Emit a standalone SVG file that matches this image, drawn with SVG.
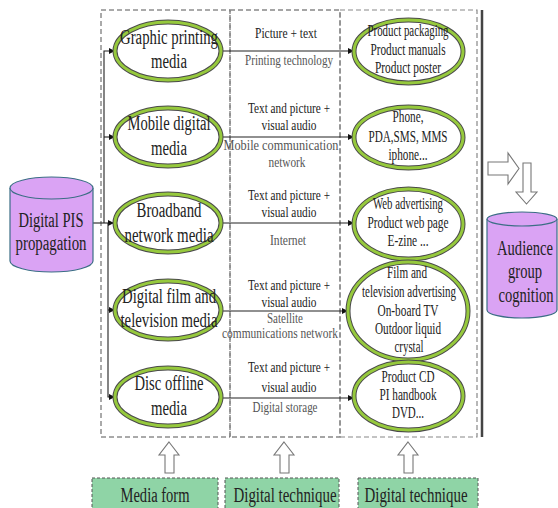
<svg xmlns="http://www.w3.org/2000/svg" width="558" height="508" viewBox="0 0 558 508" font-family="'Liberation Serif', 'Times New Roman', serif">
  <defs>
    <style>
      .t { font-family: "Liberation Serif", "Times New Roman", serif; fill: #222; text-anchor: middle; }
      .f20 { font-size: 20px; }
      .f16 { font-size: 16px; }
      .f14 { font-size: 14px; }
      .tech { fill: #555; }
      .col { fill: none; stroke-dasharray: 5 3; }
      .ring-out { fill: #fff; stroke: #4a4a4a; stroke-width: 5; }
      .ring-in { fill: none; stroke: #96c93d; stroke-width: 3; }
      .cyl { fill: #daa3f4; stroke: #3b6e85; stroke-width: 1.2; }
      .conn { fill: none; stroke: #222; stroke-width: 1.1; }
      .hollow { fill: #fff; stroke: #777; stroke-width: 1.1; }
      .tag { fill: #8fd4a6; stroke: #555; stroke-width: 1; stroke-dasharray: 3 2; }
    </style>
    <marker id="arr" viewBox="0 0 10 10" refX="10" refY="5" markerWidth="7" markerHeight="6" markerUnits="userSpaceOnUse" orient="auto">
      <path d="M0 0 L10 5 L0 10 Z" fill="#111"/>
    </marker>
  </defs>

  <!-- column frames -->
  <g id="frames">
    <rect class="col" x="101" y="10" width="129" height="427" stroke="#555" stroke-width="1"/>
    <rect class="col" x="230" y="10" width="110" height="427" stroke="#888" stroke-width="1.4" stroke-dasharray="6 3"/>
    <rect class="col" x="340" y="10" width="137" height="427" stroke="#888" stroke-width="1.2"/>
    <line x1="482" y1="10" x2="482" y2="437" stroke="#444" stroke-width="2.5"/>
  </g>

  <!-- connectors -->
  <g id="connectors">
    <path class="conn" d="M93 223 H114" marker-end="url(#arr)"/>
    <path class="conn" d="M104 223 V51 H115" marker-end="url(#arr)"/>
    <path class="conn" d="M104 137 H115" marker-end="url(#arr)"/>
    <path class="conn" d="M108 223 V397 H115" marker-end="url(#arr)"/>
    <path class="conn" d="M108 310 H115" marker-end="url(#arr)"/>
    <path class="conn" d="M221 51 H354" marker-end="url(#arr)"/>
    <path class="conn" d="M221 137 H354" marker-end="url(#arr)"/>
    <path class="conn" d="M221 223 H354" marker-end="url(#arr)"/>
    <path class="conn" d="M221 311 H348" marker-end="url(#arr)"/>
    <path class="conn" d="M221 398 H354" marker-end="url(#arr)"/>
  </g>

  <!-- source cylinder -->
  <g id="source">
    <path class="cyl" d="M10 188 V261 A41.5 11 0 0 0 93 261 V188"/>
    <ellipse class="cyl" cx="51.5" cy="188" rx="41.5" ry="11"/>
    <text class="t f20" x="51" y="227" textLength="65" lengthAdjust="spacingAndGlyphs">Digital PIS</text>
    <text class="t f20" x="51" y="250" textLength="71" lengthAdjust="spacingAndGlyphs">propagation</text>
  </g>

  <!-- media forms -->
  <g id="graphic">
    <ellipse class="ring-out" cx="168" cy="51" rx="53" ry="29"/>
    <ellipse class="ring-in" cx="168" cy="51" rx="53" ry="29"/>
    <text class="t f20" x="169" y="44" textLength="98" lengthAdjust="spacingAndGlyphs">Graphic printing</text>
    <text class="t f20" x="169" y="68" textLength="36" lengthAdjust="spacingAndGlyphs">media</text>
  </g>
  <g id="mobile">
    <ellipse class="ring-out" cx="168" cy="137" rx="53" ry="29"/>
    <ellipse class="ring-in" cx="168" cy="137" rx="53" ry="29"/>
    <text class="t f20" x="169" y="130" textLength="83" lengthAdjust="spacingAndGlyphs">Mobile digital</text>
    <text class="t f20" x="169" y="155" textLength="36" lengthAdjust="spacingAndGlyphs">media</text>
  </g>
  <g id="broadband">
    <ellipse class="ring-out" cx="168" cy="223" rx="53" ry="29"/>
    <ellipse class="ring-in" cx="168" cy="223" rx="53" ry="29"/>
    <text class="t f20" x="169" y="217" textLength="65" lengthAdjust="spacingAndGlyphs">Broadband</text>
    <text class="t f20" x="169" y="242" textLength="89" lengthAdjust="spacingAndGlyphs">network media</text>
  </g>
  <g id="film">
    <ellipse class="ring-out" cx="168" cy="310" rx="53" ry="29"/>
    <ellipse class="ring-in" cx="168" cy="310" rx="53" ry="29"/>
    <text class="t f20" x="169" y="303" textLength="94" lengthAdjust="spacingAndGlyphs">Digital film and</text>
    <text class="t f20" x="169" y="327" textLength="97" lengthAdjust="spacingAndGlyphs">television media</text>
  </g>
  <g id="disc">
    <ellipse class="ring-out" cx="168" cy="397" rx="53" ry="29"/>
    <ellipse class="ring-in" cx="168" cy="397" rx="53" ry="29"/>
    <text class="t f20" x="169" y="390" textLength="69" lengthAdjust="spacingAndGlyphs">Disc offline</text>
    <text class="t f20" x="169" y="415" textLength="36" lengthAdjust="spacingAndGlyphs">media</text>
  </g>

  <!-- techniques (middle column) -->
  <g id="tech-labels">
    <text class="t f14" x="286" y="38" textLength="62" lengthAdjust="spacingAndGlyphs">Picture + text</text>
    <text class="t f14 tech" x="289" y="65" textLength="88" lengthAdjust="spacingAndGlyphs">Printing technology</text>

    <text class="t f14" x="289" y="113" textLength="82" lengthAdjust="spacingAndGlyphs">Text and picture +</text>
    <text class="t f14" x="289" y="130" textLength="55" lengthAdjust="spacingAndGlyphs">visual audio</text>
    <text class="t f14 tech" x="281" y="150" textLength="115" lengthAdjust="spacingAndGlyphs">Mobile communication</text>
    <text class="t f14 tech" x="287" y="167" textLength="37" lengthAdjust="spacingAndGlyphs">network</text>

    <text class="t f14" x="289" y="200" textLength="82" lengthAdjust="spacingAndGlyphs">Text and picture +</text>
    <text class="t f14" x="289" y="217" textLength="55" lengthAdjust="spacingAndGlyphs">visual audio</text>
    <text class="t f14 tech" x="288" y="245" textLength="36" lengthAdjust="spacingAndGlyphs">Internet</text>

    <text class="t f14" x="289" y="290" textLength="82" lengthAdjust="spacingAndGlyphs">Text and picture +</text>
    <text class="t f14" x="289" y="307" textLength="55" lengthAdjust="spacingAndGlyphs">visual audio</text>
    <text class="t f14 tech" x="285" y="323" textLength="36" lengthAdjust="spacingAndGlyphs">Satellite</text>
    <text class="t f14 tech" x="280" y="338" textLength="116" lengthAdjust="spacingAndGlyphs">communications network</text>

    <text class="t f14" x="289" y="372" textLength="82" lengthAdjust="spacingAndGlyphs">Text and picture +</text>
    <text class="t f14" x="289" y="392" textLength="55" lengthAdjust="spacingAndGlyphs">visual audio</text>
    <text class="t f14 tech" x="285" y="412" textLength="65" lengthAdjust="spacingAndGlyphs">Digital storage</text>
  </g>

  <!-- carriers (right column) -->
  <g id="print-items">
    <ellipse class="ring-out" cx="408.5" cy="51.5" rx="54.5" ry="31.5"/>
    <ellipse class="ring-in" cx="408.5" cy="51.5" rx="54.5" ry="31.5"/>
    <text class="t f16" x="408" y="36" textLength="81" lengthAdjust="spacingAndGlyphs">Product packaging</text>
    <text class="t f16" x="408" y="55" textLength="75" lengthAdjust="spacingAndGlyphs">Product manuals</text>
    <text class="t f16" x="408" y="73" textLength="66" lengthAdjust="spacingAndGlyphs">Product poster</text>
  </g>
  <g id="mobile-items">
    <ellipse class="ring-out" cx="408.5" cy="137.5" rx="54.5" ry="30.5"/>
    <ellipse class="ring-in" cx="408.5" cy="137.5" rx="54.5" ry="30.5"/>
    <text class="t f16" x="408" y="122" textLength="31" lengthAdjust="spacingAndGlyphs">Phone,</text>
    <text class="t f16" x="408" y="142" textLength="79" lengthAdjust="spacingAndGlyphs">PDA,SMS, MMS</text>
    <text class="t f16" x="408" y="160" textLength="39" lengthAdjust="spacingAndGlyphs">iphone...</text>
  </g>
  <g id="web-items">
    <ellipse class="ring-out" cx="408.5" cy="224" rx="54.5" ry="35"/>
    <ellipse class="ring-in" cx="408.5" cy="224" rx="54.5" ry="35"/>
    <text class="t f16" x="408" y="209" textLength="70" lengthAdjust="spacingAndGlyphs">Web advertising</text>
    <text class="t f16" x="408" y="228" textLength="81" lengthAdjust="spacingAndGlyphs">Product web page</text>
    <text class="t f16" x="408" y="246" textLength="41" lengthAdjust="spacingAndGlyphs">E-zine ...</text>
  </g>
  <g id="film-items">
    <ellipse class="ring-out" cx="408" cy="311" rx="60" ry="49"/>
    <ellipse class="ring-in" cx="408" cy="311" rx="60" ry="49"/>
    <text class="t f16" x="407" y="278" textLength="40" lengthAdjust="spacingAndGlyphs">Film and</text>
    <text class="t f16" x="409" y="297" textLength="94" lengthAdjust="spacingAndGlyphs">television advertising</text>
    <text class="t f16" x="408" y="316" textLength="61" lengthAdjust="spacingAndGlyphs">On-board TV</text>
    <text class="t f16" x="408" y="334" textLength="66" lengthAdjust="spacingAndGlyphs">Outdoor liquid</text>
    <text class="t f16" x="409" y="352" textLength="29" lengthAdjust="spacingAndGlyphs">crystal</text>
  </g>
  <g id="disc-items">
    <ellipse class="ring-out" cx="408.5" cy="396" rx="54.5" ry="34"/>
    <ellipse class="ring-in" cx="408.5" cy="396" rx="54.5" ry="34"/>
    <text class="t f16" x="408" y="382" textLength="53" lengthAdjust="spacingAndGlyphs">Product CD</text>
    <text class="t f16" x="408" y="400" textLength="57" lengthAdjust="spacingAndGlyphs">PI handbook</text>
    <text class="t f16" x="408" y="418" textLength="32" lengthAdjust="spacingAndGlyphs">DVD...</text>
  </g>

  <!-- flow to audience -->
  <g id="flow-arrows">
    <polygon class="hollow" points="488,162 508,162 508,153 519,168.5 508,184 508,175 488,175"/>
    <polygon class="hollow" points="523,163 531,163 531,192 537,192 526.5,204 516,192 523,192"/>
  </g>

  <g id="audience">
    <path class="cyl" d="M487 219 V310 A35 8 0 0 0 557 310 V219"/>
    <ellipse class="cyl" cx="522" cy="219" rx="35" ry="7"/>
    <!-- condensed serif lines, scaled horizontally so they sit inside the drum -->
    <text class="t f20" transform="translate(525 255) scale(0.73 1)" x="0" y="0">Audience</text>
    <text class="t f20" transform="translate(525 278) scale(0.73 1)" x="0" y="0">group</text>
    <text class="t f20" transform="translate(526 302) scale(0.73 1)" x="0" y="0">cognition</text>
  </g>

  <!-- bottom category tags with up arrows -->
  <g id="up-arrows">
    <polygon class="hollow" points="169,442 179,455 174,455 174,473 165,473 165,455 159,455"/>
    <polygon class="hollow" points="284,442 294,455 289,455 289,473 280,473 280,455 274,455"/>
    <polygon class="hollow" points="408,442 418,455 413,455 413,473 404,473 404,455 398,455"/>
  </g>

  <g id="tag-media">
    <rect class="tag" x="92" y="478" width="126" height="36"/>
    <text class="t f20" x="155" y="502" textLength="69" lengthAdjust="spacingAndGlyphs">Media form</text>
  </g>
  <g id="tag-tech1">
    <rect class="tag" x="225" y="478" width="114" height="36"/>
    <text class="t f20" x="285" y="502" textLength="103" lengthAdjust="spacingAndGlyphs">Digital technique</text>
  </g>
  <g id="tag-tech2">
    <rect class="tag" x="358" y="478" width="120" height="36"/>
    <text class="t f20" x="416" y="502" textLength="103" lengthAdjust="spacingAndGlyphs">Digital technique</text>
  </g>
</svg>
